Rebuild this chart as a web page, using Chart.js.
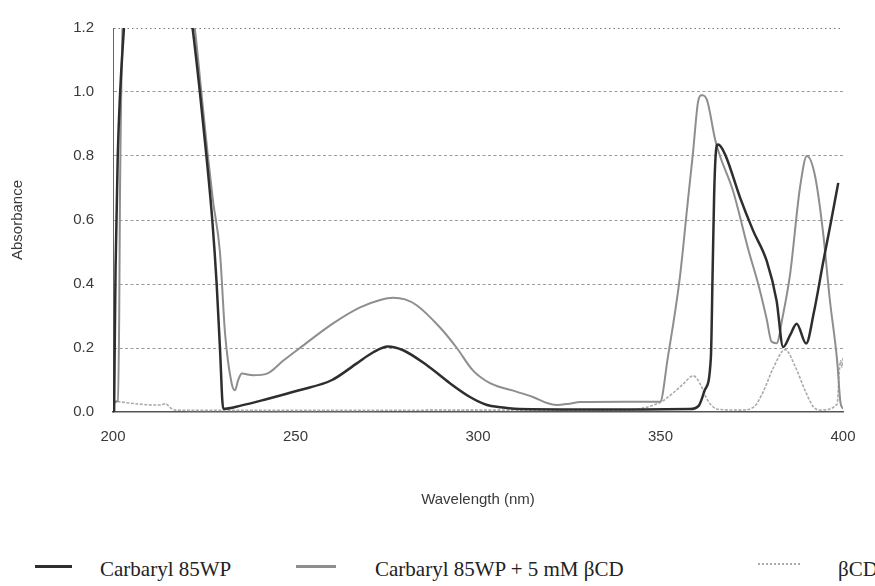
<!DOCTYPE html>
<html>
<head>
<meta charset="utf-8">
<script src="https://cdn.jsdelivr.net/npm/chart.js@4.4.1/dist/chart.umd.min.js"></script>
<style>
  html, body { margin: 0; padding: 0; background: #fff; }
  #wrap { position: relative; width: 875px; height: 586px; overflow: hidden; }
  #chart { position: absolute; left: 0; top: 0; }
  .leg-text { position: absolute; top: 555px; font-family: "Liberation Serif", "Times New Roman", serif; font-size: 21px; line-height: 28px; color: #222; white-space: nowrap; }
  .leg-line { position: absolute; height: 0; }
</style>
</head>
<body>
<div id="wrap">
  <canvas id="chart" width="875" height="530"></canvas>
</div>
<script>
// valores (nm / absorbancia)
const seriesNames = ['Carbaryl 85WP', 'Carbaryl 85WP + 5 mM \u03B2CD', '\u03B2CD'];

const carbarylWl = [200.3, 200.7, 201.3, 203.0, 206.0, 214.0, 221.8, 223.8, 225.6, 227.2, 228.4, 229.3, 230.2,
  235.0, 242.0, 251.0, 260.0, 266.8, 271.2, 275.3, 279.5, 286.0, 292.3, 297.8, 302.5, 306.0, 310.0, 325.0,
  345.0, 358.0, 360.5, 362.2, 363.8, 364.3, 364.7, 365.1, 365.7, 366.5, 368.1, 371.8, 375.4, 379.1, 381.8,
  383.6, 385.5, 387.3, 389.9, 392.0, 394.6, 396.8, 398.7];
const carbarylAbs = [0.00, 0.45, 0.80, 1.20, 1.60, 1.80, 1.20, 1.00, 0.80, 0.60, 0.40, 0.20, 0.01,
  0.02, 0.04, 0.068, 0.10, 0.152, 0.186, 0.205, 0.193, 0.146, 0.09, 0.047, 0.022, 0.015, 0.010, 0.008,
  0.008, 0.009, 0.02, 0.07, 0.17, 0.45, 0.68, 0.80, 0.836, 0.83, 0.794, 0.67, 0.566, 0.472, 0.348,
  0.203, 0.24, 0.276, 0.214, 0.31, 0.47, 0.60, 0.716];

const mixWl = [200.0, 201.3, 201.7, 201.9, 202.6, 204.0, 214.0, 222.4, 224.2, 226.0, 227.4, 229.3, 230.7,
  232.5, 233.4, 234.3, 235.3, 238.4, 242.2, 246.6, 251.2, 260.3, 267.7, 273.2, 276.7, 280.0, 283.3, 289.6,
  294.2, 298.6, 303.3, 310.7, 315.0, 318.9, 321.6, 325.0, 328.0, 340.0, 349.9, 352.0, 355.3, 357.5, 358.9,
  360.3, 361.3, 362.7, 365.0, 366.3, 369.9, 374.0, 377.0, 379.1, 380.4, 381.8, 383.5, 385.5, 388.2, 390.1,
  392.3, 394.5, 396.4, 398.4, 399.3, 400.0];
const mixAbs = [0.03, 0.035, 0.30, 0.66, 1.20, 1.60, 1.80, 1.20, 1.00, 0.80, 0.66, 0.50, 0.245,
  0.09, 0.068, 0.10, 0.12, 0.115, 0.12, 0.16, 0.20, 0.277, 0.327, 0.35, 0.357, 0.352, 0.333, 0.264,
  0.20, 0.13, 0.09, 0.063, 0.047, 0.028, 0.022, 0.026, 0.031, 0.032, 0.032, 0.17, 0.42, 0.66, 0.81,
  0.97, 0.99, 0.976, 0.85, 0.80, 0.69, 0.51, 0.39, 0.29, 0.22, 0.215, 0.30, 0.43, 0.70, 0.80,
  0.74, 0.565, 0.35, 0.16, 0.03, 0.01];

const cdWl = [200.0, 203.0, 207.0, 211.0, 213.0, 214.5, 215.5, 217.0, 225.0, 260.0, 300.0, 340.0, 349.9,
  353.0, 356.0, 359.0, 361.0, 362.5, 364.0, 366.0, 372.0, 375.6, 378.0, 381.0, 384.1, 387.0, 389.5, 391.9,
  394.0, 398.4, 399.0, 399.4, 399.7, 400.0];
const cdAbs = [0.035, 0.03, 0.025, 0.022, 0.022, 0.026, 0.015, 0.006, 0.005, 0.005, 0.006, 0.006, 0.03,
  0.055, 0.085, 0.113, 0.085, 0.045, 0.02, 0.008, 0.006, 0.016, 0.06, 0.14, 0.195, 0.14, 0.07, 0.016,
  0.006, 0.025, 0.13, 0.16, 0.14, 0.17];

const xTicks = [200, 250, 300, 350, 400];
const yTicks = [0, 0.2, 0.4, 0.6, 0.8, 1.0, 1.2];

const colors = ['#2e2e2e', '#8e8e8e', '#ababab'];
const widths = [2.5, 2, 1.6];
const dashes = [[], [], [3, 1.5]];

const toPoints = (xs, ys) => xs.map((x, i) => ({ x: x, y: ys[i] }));
const allData = [toPoints(carbarylWl, carbarylAbs), toPoints(mixWl, mixAbs), toPoints(cdWl, cdAbs)];

const txt = '#3a3a3a';
const sans = '"Liberation Sans", Arial, sans-serif';

new Chart(document.getElementById('chart'), {
    type: 'line',
    data: {
        datasets: allData.map((d, i) => ({
            label: seriesNames[i],
            data: d,
            borderColor: colors[i],
            borderWidth: widths[i],
            borderDash: dashes[i],
            pointRadius: 0,
            fill: false,
            cubicInterpolationMode: 'monotone',
            borderJoinStyle: 'round'
        }))
    },
    options: {
        responsive: false,
        animation: false,
        layout: { padding: { top: 26, right: 32, left: 0, bottom: 0 } },
        plugins: { legend: { display: false }, tooltip: { enabled: false } },
        scales: {
            x: {
                type: 'linear', min: 200, max: 400,
                afterBuildTicks: s => { s.ticks = xTicks.map(v => ({ value: v })); },
                afterFit: s => { s.height = 118; },
                grid: { display: false, drawTicks: false },
                border: { display: true, color: '#555', width: 1.5 },
                ticks: { color: txt, font: { family: sans, size: 15 }, padding: 16, maxRotation: 0 },
                title: { display: true, text: 'Wavelength (nm)', color: txt, font: { family: sans, size: 15 }, padding: { top: 0, bottom: 21 } }
            },
            y: {
                min: 0, max: 1.2,
                afterBuildTicks: s => { s.ticks = yTicks.map(v => ({ value: v })); },
                afterFit: s => { s.width = 113; },
                grid: {
                    drawTicks: false,
                    color: c => (c.tick && c.tick.value === 0) ? 'rgba(0,0,0,0)' : (c.tick && Math.abs(c.tick.value - 1.2) < 1e-6 ? '#777' : '#9c9c9c'),
                    lineWidth: 1
                },
                border: {
                    display: true, color: '#666', width: 1,
                    dash: c => (c.tick && Math.abs(c.tick.value - 1.2) < 1e-6) ? [1.5, 3] : [3, 2.5]
                },
                ticks: { color: txt, font: { family: sans, size: 15 }, padding: 19, callback: v => v.toFixed(1) },
                title: { display: true, text: 'Absorbance', color: txt, font: { family: sans, size: 15 }, padding: { top: 9, bottom: 0 } }
            }
        }
    }
});

// leyenda en HTML, con las mismas series
const wrap = document.getElementById('wrap');
const legLines = [[35, 72], [296, 336], [758, 800]];
const legText = [100, 375, 838];
seriesNames.forEach((name, i) => {
    const ln = document.createElement('div');
    ln.className = 'leg-line';
    ln.style.left = legLines[i][0] + 'px';
    ln.style.width = (legLines[i][1] - legLines[i][0]) + 'px';
    ln.style.top = (i === 2 ? 563 : 565) + 'px';
    ln.style.borderTop = (i === 2 ? '2px dotted ' : '3px solid ') + colors[i];
    wrap.appendChild(ln);
    const t = document.createElement('div');
    t.className = 'leg-text';
    t.style.left = legText[i] + 'px';
    t.textContent = name;
    wrap.appendChild(t);
});
</script>
</body>
</html>
